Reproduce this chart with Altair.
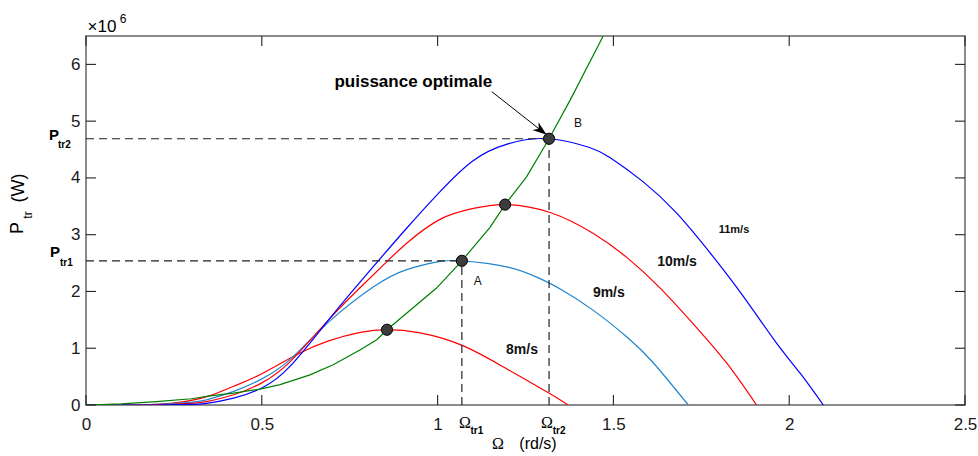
import altair as alt
import pandas as pd

# ---------------- data ----------------
omega_8 = [0, 0.1, 0.2, 0.28, 0.35, 0.42, 0.5, 0.6, 0.69, 0.78, 0.856, 0.95, 1.07, 1.19, 1.32, 1.371]
p_8 = [0, 0.0, 0.01, 0.06, 0.16, 0.33, 0.55, 0.89, 1.13, 1.28, 1.326, 1.27, 1.05, 0.66, 0.20, 0]

omega_9 = [0, 0.1, 0.2, 0.3, 0.343, 0.42, 0.5, 0.58, 0.69, 0.82, 0.91, 1.0, 1.069, 1.2, 1.29, 1.35, 1.44, 1.54, 1.614, 1.713]
p_9 = [0, 0, 0.01, 0.05, 0.09, 0.24, 0.46, 0.80, 1.46, 2.09, 2.38, 2.52, 2.54, 2.43, 2.23, 2.04, 1.68, 1.19, 0.74, 0]

omega_10 = [0, 0.1, 0.2, 0.3, 0.343, 0.42, 0.5, 0.58, 0.69, 0.78, 0.855, 0.912, 1.007, 1.1, 1.19, 1.32, 1.443, 1.538, 1.633, 1.727, 1.822, 1.907]
p_10 = [0, 0, 0.005, 0.03, 0.06, 0.18, 0.39, 0.76, 1.50, 2.07, 2.52, 2.85, 3.27, 3.46, 3.53, 3.39, 3.02, 2.60, 2.06, 1.43, 0.74, 0]

omega_11 = [0, 0.1, 0.2, 0.3, 0.343, 0.42, 0.5, 0.58, 0.69, 0.78, 0.91, 1.007, 1.1, 1.2, 1.317, 1.43, 1.49, 1.585, 1.68, 1.775, 1.87, 1.964, 2.031, 2.097]
p_11 = [0, 0, 0, 0.01, 0.03, 0.12, 0.30, 0.68, 1.50, 2.17, 3.10, 3.76, 4.30, 4.60, 4.69, 4.54, 4.36, 3.93, 3.38, 2.68, 1.91, 1.09, 0.56, 0]

omega_opt = [0, 0.1, 0.2, 0.3, 0.353, 0.42, 0.495, 0.552, 0.637, 0.703, 0.779, 0.827, 0.856, 0.997, 1.069, 1.149, 1.192, 1.253, 1.317, 1.377, 1.471]
p_opt = [0, 0.02, 0.06, 0.11, 0.16, 0.21, 0.28, 0.36, 0.53, 0.71, 0.97, 1.15, 1.326, 2.06, 2.54, 3.13, 3.53, 4.02, 4.69, 5.37, 6.5]

peak_omega = [0.856, 1.069, 1.192, 1.317]
peak_p = [1.326, 2.54, 3.53, 4.69]

speed_names = ["8m/s", "9m/s", "10m/s", "11m/s"]
speed_colors = ["#FF0000", "#1F86CC", "#FF0000", "#0000FF"]
speed_label_omega = [1.24, 1.487, 1.681, 1.843]
speed_label_p = [0.97, 1.98, 2.52, 3.09]

x_tick_vals = [0, 0.5, 1, 1.5, 2, 2.5]
y_tick_vals = [0, 1, 2, 3, 4, 5, 6]

# point A (9 m/s) and point B (11 m/s)
pt_A = (1.069, 2.54)
pt_B = (1.317, 4.69)

arrow_start = (1.154, 5.52)
arrow_tip = (1.31, 4.76)
title_pos = (0.931, 5.60)

W, H = 879, 369
FONT = "Liberation Sans"
SERIF = "Liberation Serif"

x_scale = alt.Scale(domain=[0, 2.5], nice=False, zero=False)
y_scale = alt.Scale(domain=[0, 6.5], nice=False, zero=False)

x_axis = alt.Axis(values=x_tick_vals, format="~g", ticks=False, domain=False, grid=False,
                  labelFontSize=17, labelFont=FONT, labelColor="#1a1a1a", labelPadding=11,
                  labelFlush=False, labelOverlap=False, labelBound=False, title=None)
y_axis = alt.Axis(values=y_tick_vals, format="d", ticks=False, domain=False, grid=False,
                  labelFontSize=17, labelFont=FONT, labelColor="#1a1a1a", labelPadding=6,
                  labelFlush=False, labelOverlap=False, labelBound=False, title=None)


def X(field="omega"):
    return alt.X(f"{field}:Q", scale=x_scale, axis=x_axis)


def Y(field="p"):
    return alt.Y(f"{field}:Q", scale=y_scale, axis=y_axis)


# ---------------- tables ----------------
rows = []
for name, om, pp in zip(speed_names, [omega_8, omega_9, omega_10, omega_11], [p_8, p_9, p_10, p_11]):
    for o, v in zip(om, pp):
        rows.append({"series": name, "omega": o, "p": v})
df_curves = pd.DataFrame(rows)
df_opt = pd.DataFrame({"omega": omega_opt, "p": p_opt})
df_peaks = pd.DataFrame({"omega": peak_omega, "p": peak_p})

curves = alt.Chart(df_curves).mark_line(strokeWidth=1.2, interpolate="natural", clip=True).encode(
    x=X(), y=Y(),
    color=alt.Color("series:N", scale=alt.Scale(domain=speed_names, range=speed_colors), legend=None),
)
opt_line = alt.Chart(df_opt).mark_line(strokeWidth=1.2, color="#008000", clip=True).encode(x=X(), y=Y())

df_h = pd.DataFrame({"omega": [0, 0], "omega2": [pt_A[0], pt_B[0]], "p": [pt_A[1], pt_B[1]]})
df_v = pd.DataFrame({"omega": [pt_A[0], pt_B[0]], "p": [0, 0], "p2": [pt_A[1], pt_B[1]]})
dash_h = alt.Chart(df_h).mark_rule(color="#222222", strokeWidth=1.2, strokeDash=[8, 5]).encode(
    x=X(), x2="omega2:Q", y=Y())
dash_v = alt.Chart(df_v).mark_rule(color="#222222", strokeWidth=1.2, strokeDash=[8, 5]).encode(
    x=X(), y=Y(), y2="p2:Q")

dots = alt.Chart(df_peaks).mark_point(filled=True, size=125, color="#3c3c3c", stroke="#000000",
                                      strokeWidth=1, opacity=1).encode(x=X(), y=Y())

# frame ticks (inward)
df_xt = pd.DataFrame({"omega": x_tick_vals})
df_yt = pd.DataFrame({"p": y_tick_vals})
tick_style = dict(color="#222222", strokeWidth=1.1)
xt_bottom = alt.Chart(df_xt).mark_rule(**tick_style).encode(x=X(), y=alt.value(H), y2=alt.value(H - 10))
xt_top = alt.Chart(df_xt).mark_rule(**tick_style).encode(x=X(), y=alt.value(0), y2=alt.value(10))
yt_left = alt.Chart(df_yt).mark_rule(**tick_style).encode(y=Y(), x=alt.value(0), x2=alt.value(10))
yt_right = alt.Chart(df_yt).mark_rule(**tick_style).encode(y=Y(), x=alt.value(W), x2=alt.value(W - 10))

# speed labels
df_sl = pd.DataFrame({"omega": speed_label_omega[:3], "p": speed_label_p[:3], "t": speed_names[:3]})
speed_txt = alt.Chart(df_sl).mark_text(font=FONT, fontSize=14, fontWeight="bold", color="#111111",
                                       baseline="middle").encode(x=X(), y=Y(), text="t:N")
df_sl11 = pd.DataFrame({"omega": [speed_label_omega[3]], "p": [speed_label_p[3]], "t": [speed_names[3]]})
speed_txt11 = alt.Chart(df_sl11).mark_text(font=FONT, fontSize=11, fontWeight="bold", color="#111111",
                                           baseline="middle").encode(x=X(), y=Y(), text="t:N")

# A / B labels
df_ab = pd.DataFrame({"omega": [pt_A[0], pt_B[0]], "p": [pt_A[1], pt_B[1]], "t": ["A", "B"]})
lab_A = alt.Chart(df_ab.iloc[[0]]).mark_text(font=FONT, fontSize=12, color="#111111", dx=16, dy=20,
                                             baseline="middle").encode(x=X(), y=Y(), text="t:N")
lab_B = alt.Chart(df_ab.iloc[[1]]).mark_text(font=FONT, fontSize=12, color="#111111", dx=29, dy=-16,
                                             baseline="middle").encode(x=X(), y=Y(), text="t:N")

# puissance optimale + arrow
df_title = pd.DataFrame({"omega": [title_pos[0]], "p": [title_pos[1]], "t": ["puissance optimale"]})
ann_txt = alt.Chart(df_title).mark_text(font=FONT, fontSize=17, fontWeight="bold", color="#000000",
                                        baseline="alphabetic").encode(x=X(), y=Y(), text="t:N")
df_arrow = pd.DataFrame({"omega": [arrow_start[0]], "p": [arrow_start[1]],
                         "omega2": [arrow_tip[0]], "p2": [arrow_tip[1]]})
arrow_line = alt.Chart(df_arrow).mark_rule(color="#000000", strokeWidth=1).encode(
    x=X(), y=Y(), x2="omega2:Q", y2="p2:Q")
df_head = pd.DataFrame({"omega": [arrow_tip[0]], "p": [arrow_tip[1]]})
arrow_head = alt.Chart(df_head).mark_point(shape="M0,0L-2,-0.7L-1.4,0L-2,0.7Z", size=200, angle=38,
                                           filled=True, color="#000000", opacity=1).encode(x=X(), y=Y())

# P_tr1 / P_tr2 labels on the left margin
df_pl = pd.DataFrame({"p": [pt_A[1], pt_B[1]]})
p_main1 = alt.Chart(df_pl.iloc[[0]]).mark_text(font=FONT, fontSize=15, fontWeight="bold", align="center",
                                               baseline="alphabetic", dy=-4, text="P").encode(
    x=alt.value(-31), y=Y())
p_sub1 = alt.Chart(df_pl.iloc[[0]]).mark_text(font=FONT, fontSize=10, fontWeight="bold", align="left",
                                              baseline="alphabetic", dy=5, text="tr1").encode(
    x=alt.value(-26), y=Y())
p_main2 = alt.Chart(df_pl.iloc[[1]]).mark_text(font=FONT, fontSize=15, fontWeight="bold", align="center",
                                               baseline="alphabetic", dy=1, text="P").encode(
    x=alt.value(-32), y=Y())
p_sub2 = alt.Chart(df_pl.iloc[[1]]).mark_text(font=FONT, fontSize=10, fontWeight="bold", align="left",
                                              baseline="alphabetic", dy=9, text="tr2").encode(
    x=alt.value(-28), y=Y())

# Omega_tr1 / Omega_tr2 labels under the axis
df_ol = pd.DataFrame({"omega": [pt_A[0], pt_B[0]]})
o_main1 = alt.Chart(df_ol.iloc[[0]]).mark_text(font=SERIF, fontSize=16, align="center", baseline="middle",
                                               dx=3, text="Ω").encode(x=X(), y=alt.value(387))
o_sub1 = alt.Chart(df_ol.iloc[[0]]).mark_text(font=FONT, fontSize=10, fontWeight="bold", align="center",
                                              baseline="middle", dx=15, text="tr1").encode(x=X(), y=alt.value(395))
o_main2 = alt.Chart(df_ol.iloc[[1]]).mark_text(font=SERIF, fontSize=16, align="center", baseline="middle",
                                               dx=-2, text="Ω").encode(x=X(), y=alt.value(387))
o_sub2 = alt.Chart(df_ol.iloc[[1]]).mark_text(font=FONT, fontSize=10, fontWeight="bold", align="center",
                                              baseline="middle", dx=10, text="tr2").encode(x=X(), y=alt.value(395))

# axis titles and exponent
one = pd.DataFrame({"k": [0]})
ytitle_P = alt.Chart(one).mark_text(font=FONT, fontSize=18, angle=270, align="center", baseline="middle",
                                    text="P").encode(x=alt.value(-68), y=alt.value(192))
ytitle_sub = alt.Chart(one).mark_text(font=FONT, fontSize=12, angle=270, align="center", baseline="middle",
                                      text="tr").encode(x=alt.value(-58), y=alt.value(179))
ytitle_W = alt.Chart(one).mark_text(font=FONT, fontSize=18, angle=270, align="center", baseline="middle",
                                    text="(W)").encode(x=alt.value(-67), y=alt.value(152))
xtitle_O = alt.Chart(one).mark_text(font=SERIF, fontSize=16, align="center", baseline="top",
                                    text="Ω").encode(x=alt.value(412), y=alt.value(400))
xtitle_u = alt.Chart(one).mark_text(font=FONT, fontSize=16, align="center", baseline="top",
                                    text="(rd/s)").encode(x=alt.value(452), y=alt.value(400))
exp_base = alt.Chart(one).mark_text(font=FONT, fontSize=17, align="center", baseline="middle",
                                    text="×10").encode(x=alt.value(16), y=alt.value(-9))
exp_pow = alt.Chart(one).mark_text(font=FONT, fontSize=12, align="center", baseline="middle",
                                   text="6").encode(x=alt.value(37), y=alt.value(-17))

chart = alt.layer(
    curves, opt_line, dash_h, dash_v, dots,
    xt_bottom, xt_top, yt_left, yt_right,
    speed_txt, speed_txt11, lab_A, lab_B, ann_txt, arrow_line, arrow_head,
    p_main1, p_sub1, p_main2, p_sub2, o_main1, o_sub1, o_main2, o_sub2,
    ytitle_P, ytitle_sub, ytitle_W, xtitle_O, xtitle_u, exp_base, exp_pow,
).properties(
    width=W, height=H,
    padding={"left": 86, "top": 36, "right": 13, "bottom": 51},
    autosize=alt.AutoSizeParams(type="none"),
    background="white",
).configure_view(stroke="#666666", strokeWidth=1.5)

chart.save("out.html", embed_options={"renderer": "svg", "actions": False})
